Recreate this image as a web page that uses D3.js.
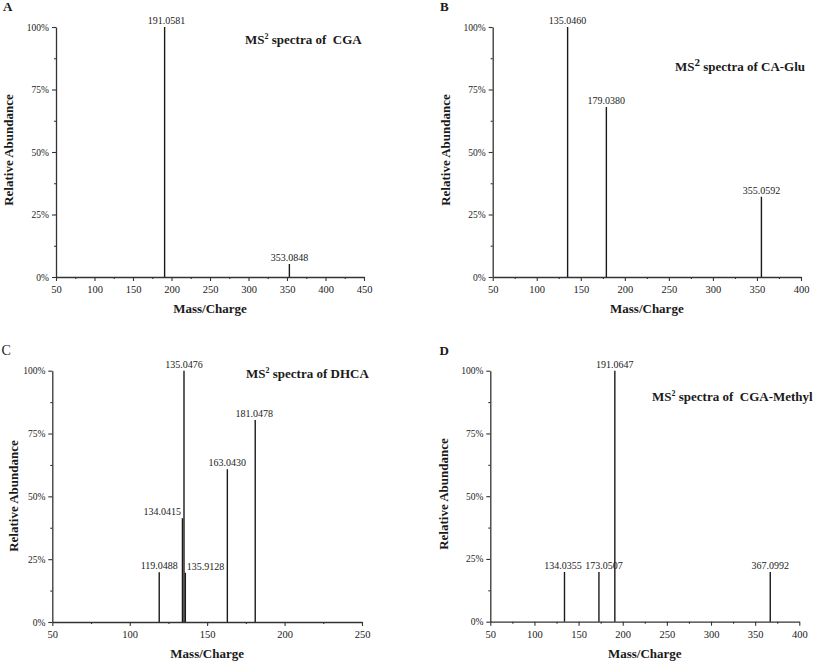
<!DOCTYPE html>
<html><head><meta charset="utf-8">
<script src="https://cdn.jsdelivr.net/npm/d3@7/dist/d3.min.js"></script>
<style>
html,body{margin:0;padding:0;background:#fff;}
svg{display:block;}
</style></head>
<body>
<svg id="chart" width="813" height="661"></svg>
<script>
// ---------- data ----------
const mzA = [191.0581, 353.0848];
const abA = [100, 5.2];
const mzB = [135.0460, 179.0380, 355.0592];
const abB = [100, 68, 32.1];
const mzC = [119.0488, 134.0415, 135.0476, 135.9128, 163.0430, 181.0478];
const abC = [19.8, 41.3, 100, 19.6, 60.8, 80.4];
const mzD = [134.0355, 173.0507, 191.0647, 367.0992];
const abD = [19.8, 19.8, 100, 19.8];
const xTicksA = [50, 100, 150, 200, 250, 300, 350, 400, 450];
const xTicksB = [50, 100, 150, 200, 250, 300, 350, 400];
const xTicksC = [50, 100, 150, 200, 250];
const xTicksD = [50, 100, 150, 200, 250, 300, 350, 400];
const yTicks = [0, 25, 50, 75, 100];
const panelLetters = ["A", "B", "C", "D"];
const compounds = ["CGA", "CA-Glu", "DHCA", "CGA-Methyl"];

// ---------- layout / style ----------
const panels = [
  {letter: panelLetters[0], name: compounds[0], gap: "\u00a0\u00a0", mz: mzA, ab: abA, ticks: xTicksA,
   x0: 56, x1: 364, yTop: 27, yBot: 277, letterX: 3, letterY: 11, letterBold: true,
   titleX: 245, titleY: 44, supBig: false, xlabY: 313, ylabX: 13, ylabY: 150,
   anchors: ["middle", "middle"], dx: [2, 0]},
  {letter: panelLetters[1], name: compounds[1], gap: " ", mz: mzB, ab: abB, ticks: xTicksB,
   x0: 492.7, x1: 801, yTop: 27, yBot: 277, letterX: 440, letterY: 11, letterBold: true,
   titleX: 675, titleY: 71, supBig: true, xlabY: 313, ylabX: 450, ylabY: 150,
   anchors: ["middle", "middle", "middle"], dx: [0, 0, 0]},
  {letter: panelLetters[2], name: compounds[2], gap: " ", mz: mzC, ab: abC, ticks: xTicksC,
   x0: 52.3, x1: 362, yTop: 370.7, yBot: 622, letterX: 1.5, letterY: 355, letterBold: false,
   titleX: 246, titleY: 378, supBig: false, xlabY: 658, ylabX: 18, ylabY: 496,
   anchors: ["middle", "end", "middle", "start", "middle", "middle"], dx: [0, -1.5, 0, 1.5, 0, -1]},
  {letter: panelLetters[3], name: compounds[3], gap: "\u00a0\u00a0", mz: mzD, ab: abD, ticks: xTicksD,
   x0: 490.3, x1: 799.3, yTop: 370.7, yBot: 621.7, letterX: 439.5, letterY: 355, letterBold: true,
   titleX: 652, titleY: 401, supBig: false, xlabY: 658, ylabX: 448, ylabY: 494,
   anchors: ["middle", "middle", "middle", "middle"], dx: [-1.5, 5, 0, 0]}
];

const SERIF = "'Liberation Serif','Times New Roman',serif";
const INK = "#1a1a1a";
const svg = d3.select("#chart");
svg.append("rect").attr("width", 813).attr("height", 661).attr("fill", "#fff");

panels.forEach(p => {
  const g = svg.append("g");
  const x = d3.scaleLinear().domain([p.ticks[0], p.ticks[p.ticks.length - 1]]).range([p.x0, p.x1]);
  const y = d3.scaleLinear().domain([0, 100]).range([p.yBot, p.yTop]);

  // minor ticks
  const minorX = p.ticks.slice(0, -1).map((t, i) => (t + p.ticks[i + 1]) / 2);
  const minorY = yTicks.slice(0, -1).map((t, i) => (t + yTicks[i + 1]) / 2);

  const styleAxis = sel => {
    sel.selectAll("path").attr("stroke", "#333").attr("stroke-width", 1.3);
    sel.selectAll("line").attr("stroke", "#333").attr("stroke-width", 1.1);
    sel.selectAll("text").attr("font-family", SERIF).attr("fill", INK);
  };

  g.append("g").attr("transform", `translate(0,${p.yBot})`)
    .call(d3.axisBottom(x).tickValues(minorX).tickSize(2).tickFormat("").tickSizeOuter(0))
    .call(styleAxis).select("path").remove();
  g.append("g").attr("transform", `translate(${p.x0},0)`)
    .call(d3.axisLeft(y).tickValues(minorY).tickSize(2).tickFormat("").tickSizeOuter(0))
    .call(styleAxis).select("path").remove();

  g.append("g").attr("transform", `translate(0,${p.yBot})`)
    .call(d3.axisBottom(x).tickValues(p.ticks).tickSize(4).tickPadding(5).tickSizeOuter(0))
    .call(styleAxis)
    .selectAll("text").attr("font-size", "10.5px");
  g.append("g").attr("transform", `translate(${p.x0},0)`)
    .call(d3.axisLeft(y).tickValues(yTicks).tickSize(4).tickPadding(3).tickSizeOuter(0).tickFormat(d => d + "%"))
    .call(styleAxis)
    .selectAll("text").attr("font-size", "9.5px");

  // peaks
  const peaks = p.mz.map((m, i) => ({m, a: p.ab[i], anchor: p.anchors[i], dx: p.dx[i]}));
  g.selectAll("line.peak").data(peaks).enter().append("line")
    .attr("class", "peak")
    .attr("x1", d => x(d.m)).attr("x2", d => x(d.m))
    .attr("y1", y(0)).attr("y2", d => y(d.a))
    .attr("stroke", INK).attr("stroke-width", 1.4);

  g.selectAll("text.plab").data(peaks).enter().append("text")
    .attr("class", "plab")
    .attr("x", d => x(d.m) + d.dx)
    .attr("y", d => y(d.a) - 3)
    .attr("text-anchor", d => d.anchor)
    .attr("font-family", SERIF).attr("font-size", "10px").attr("fill", INK)
    .text(d => d.m.toFixed(4));

  // panel letter
  g.append("text").attr("x", p.letterX).attr("y", p.letterY)
    .attr("font-family", SERIF).attr("font-size", p.letterBold ? "13px" : "14px")
    .attr("font-weight", p.letterBold ? "bold" : "normal").attr("fill", INK)
    .text(p.letter);

  // title
  const t = g.append("text").attr("x", p.titleX).attr("y", p.titleY)
    .attr("font-family", SERIF).attr("font-size", "13px").attr("font-weight", "bold").attr("fill", INK);
  t.append("tspan").text("MS");
  t.append("tspan").attr("dy", p.supBig ? -5 : -5).attr("font-size", p.supBig ? "11px" : "8px").text("2");
  t.append("tspan").attr("dy", 5).text(" spectra of" + p.gap + p.name);

  // axis titles
  g.append("text").attr("x", (p.x0 + p.x1) / 2).attr("y", p.xlabY)
    .attr("text-anchor", "middle").attr("font-family", SERIF).attr("font-size", "13px")
    .attr("font-weight", "bold").attr("fill", INK).text("Mass/Charge");
  g.append("text").attr("transform", `translate(${p.ylabX},${p.ylabY}) rotate(-90)`)
    .attr("text-anchor", "middle").attr("font-family", SERIF).attr("font-size", "13px")
    .attr("font-weight", "bold").attr("fill", INK).text("Relative Abundance");
});
</script>
</body></html>
